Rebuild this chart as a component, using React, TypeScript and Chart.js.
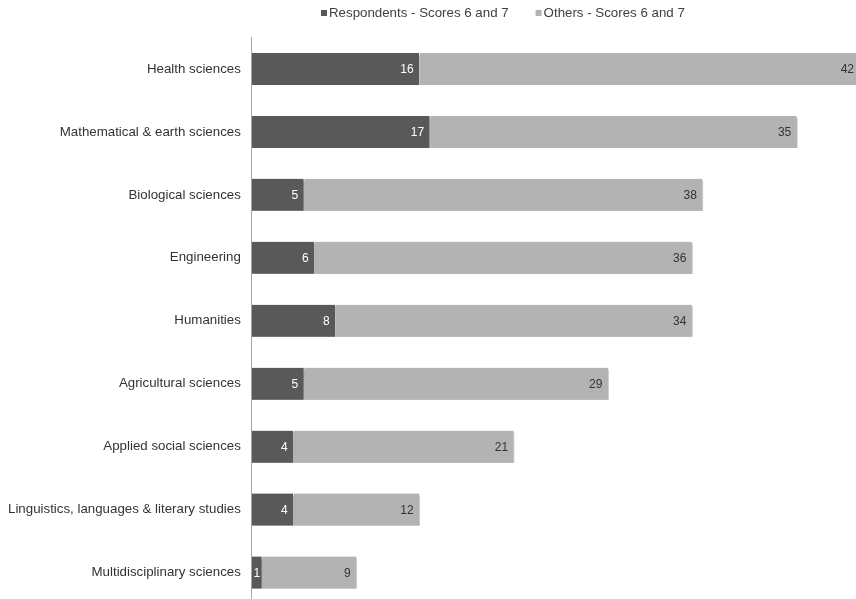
import React, { useEffect, useRef } from "react";
import { Chart, registerables } from "chart.js";

Chart.register(...registerables);

const categories = [
  "Health sciences",
  "Mathematical & earth sciences",
  "Biological sciences",
  "Engineering",
  "Humanities",
  "Agricultural sciences",
  "Applied social sciences",
  "Linguistics, languages & literary studies",
  "Multidisciplinary sciences",
];
const respondents = [16, 17, 5, 6, 8, 5, 4, 4, 1];
const others = [42, 35, 38, 36, 34, 29, 21, 12, 9];
const seriesNames = ["Respondents - Scores 6 and 7", "Others - Scores 6 and 7"];
const seriesColors = ["#595959", "#b3b3b3"];
const xMax = 57.6;

const FONT = "'Liberation Sans', Arial, sans-serif";

const shadowPlugin = {
  id: "barShadow",
  beforeDatasetsDraw(chart: any) {
    const ctx = chart.ctx;
    ctx.save();
    ctx.shadowColor = "rgba(0,0,0,0.28)";
    ctx.shadowOffsetX = 1;
    ctx.shadowOffsetY = 2;
    ctx.shadowBlur = 2;
  },
  afterDatasetsDraw(chart: any) {
    chart.ctx.restore();
  },
};

const labelPlugin = {
  id: "barLabels",
  afterDatasetsDraw(chart: any) {
    const ctx = chart.ctx;
    ctx.save();
    ctx.font = `12px ${FONT}`;
    ctx.textAlign = "right";
    ctx.textBaseline = "middle";
    chart.data.datasets.forEach((ds: any, di: number) => {
      const meta = chart.getDatasetMeta(di);
      meta.data.forEach((bar: any, i: number) => {
        const v = ds.data[i];
        ctx.fillStyle = di === 0 ? "#ffffff" : "#333333";
        const x = Math.min(bar.x, chart.chartArea.right + 4);
        const w = Math.abs(bar.x - bar.base);
        const tx = w < 14 ? bar.base + w / 2 + 3 : x - 6;
        ctx.fillText(String(v), tx, bar.y + 1);
      });
    });
    ctx.restore();
  },
};

const legendPlugin = {
  id: "customLegend",
  afterDraw(chart: any) {
    const ctx = chart.ctx;
    ctx.save();
    ctx.font = `13.3px ${FONT}`;
    ctx.textBaseline = "middle";
    ctx.textAlign = "left";
    let x = 324;
    const y = 13;
    chart.data.datasets.forEach((ds: any, di: number) => {
      ctx.fillStyle = seriesColors[di];
      ctx.fillRect(x, y - 3, 6, 6);
      ctx.fillStyle = "#404040";
      ctx.fillText(ds.label, x + 8, y);
      x += 8 + ctx.measureText(ds.label).width + 27;
    });
    ctx.restore();
  },
};

export default function App() {
  const ref = useRef<HTMLCanvasElement>(null);
  useEffect(() => {
    if (!ref.current) return;
    const chart = new Chart(ref.current, {
      type: "bar",
      data: {
        labels: categories,
        datasets: [
          {
            label: seriesNames[0],
            data: respondents,
            backgroundColor: seriesColors[0],
            borderColor: "rgba(255,255,255,0.55)",
            borderWidth: { right: 1 } as any,
            borderSkipped: false,
            barThickness: 32,
          },
          {
            label: seriesNames[1],
            data: others,
            backgroundColor: seriesColors[1],
            borderColor: "rgba(255,255,255,0.55)",
            borderWidth: { right: 1 } as any,
            borderSkipped: false,
            barThickness: 32,
          },
        ],
      },
      options: {
        indexAxis: "y",
        animation: false,
        responsive: true,
        maintainAspectRatio: false,
        layout: { padding: { left: 0, right: 0, top: 37.5, bottom: 0 } },
        scales: {
          x: {
            stacked: true,
            display: false,
            min: 0,
            max: xMax,
          },
          y: {
            stacked: true,
            grid: { display: false, drawTicks: false },
            border: { display: true, color: "#a6a6a6", width: 1 },
            ticks: {
              color: "#333333",
              font: { family: FONT, size: 13.3 },
              padding: 11,
            },
          },
        },
        plugins: {
          legend: { display: false },
          tooltip: { enabled: false },
        },
      },
      plugins: [shadowPlugin, labelPlugin, legendPlugin],
    });
    return () => chart.destroy();
  }, []);
  return (
    <div style={{ position: "fixed", left: -3, top: 0, width: 859, height: 623 }}>
      <canvas ref={ref} />
    </div>
  );
}
